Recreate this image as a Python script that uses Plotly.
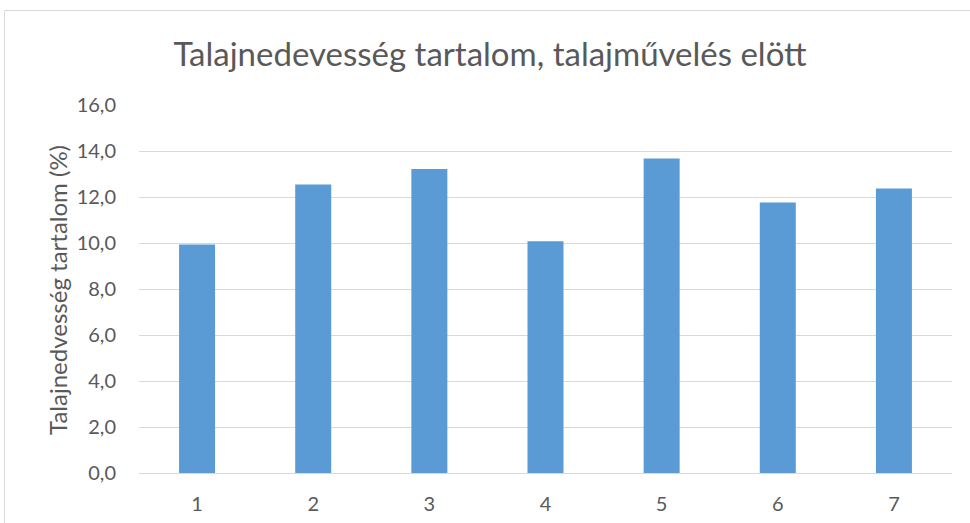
import plotly.graph_objects as go

categories = ["1", "2", "3", "4", "5", "6", "7"]
values = [9.94, 12.54, 13.22, 10.08, 13.67, 11.76, 12.37]
y_tick_vals = [0, 2, 4, 6, 8, 10, 12, 14, 16]

title_text = "Talajnedevesség tartalom, talajművelés elött"
y_title = "Talajnedvesség tartalom (%)"

FONT = "Lato, 'Open Sans', sans-serif"
GRAY = "#595959"

W, H = 970, 523
L, R, T, B = 139, 18, 105, 50
pw = W - L - R
ph = H - T - B


def px_to_paper_x(px):
    return (px - L) / pw


def px_to_paper_y(py):
    return (H - B - py) / ph


fig = go.Figure(
    go.Bar(
        x=categories,
        y=values,
        marker=dict(color="#5b9bd5", line=dict(width=0)),
        width=0.31,
    )
)

fig.update_layout(
    width=W,
    height=H,
    margin=dict(l=L, r=R, t=T, b=B, autoexpand=False),
    paper_bgcolor="white",
    plot_bgcolor="white",
    separators=", ",
    showlegend=False,
    title=dict(
        text=title_text,
        x=490 / W,
        xref="container",
        xanchor="center",
        y=1 - 54 / H,
        yref="container",
        yanchor="middle",
        font=dict(family=FONT, size=33, color=GRAY),
    ),
    font=dict(family=FONT, color=GRAY),
)

fig.update_xaxes(
    type="category",
    automargin=False,
    showgrid=False,
    showline=True,
    linecolor="#d9d9d9",
    linewidth=1,
    ticks="outside",
    ticklen=13,
    tickcolor="rgba(0,0,0,0)",
    tickfont=dict(family=FONT, size=20, color=GRAY),
    zeroline=False,
)

fig.update_yaxes(
    range=[0, 16],
    automargin=False,
    tickvals=y_tick_vals,
    tickformat=".1f",
    showgrid=True,
    gridcolor="#d9d9d9",
    gridwidth=1,
    zeroline=False,
    showline=False,
    ticks="outside",
    ticklen=18,
    tickcolor="rgba(0,0,0,0)",
    tickfont=dict(family=FONT, size=20, color=GRAY),
)

fig.add_annotation(
    text=y_title,
    xref="paper",
    yref="paper",
    x=px_to_paper_x(57),
    y=px_to_paper_y(290),
    xanchor="center",
    yanchor="middle",
    textangle=-90,
    showarrow=False,
    font=dict(family=FONT, size=24, color=GRAY),
)

fig.add_shape(
    type="rect",
    xref="paper",
    yref="paper",
    x0=px_to_paper_x(4.5),
    x1=px_to_paper_x(990),
    y0=px_to_paper_y(540),
    y1=px_to_paper_y(10.5),
    line=dict(color="#d9d9d9", width=1),
    fillcolor="rgba(0,0,0,0)",
    layer="below",
)

fig.write_html(
    "out.html",
    config={"displayModeBar": False},
    post_script="document.body.style.margin='0';document.body.style.overflow='hidden';",
)
